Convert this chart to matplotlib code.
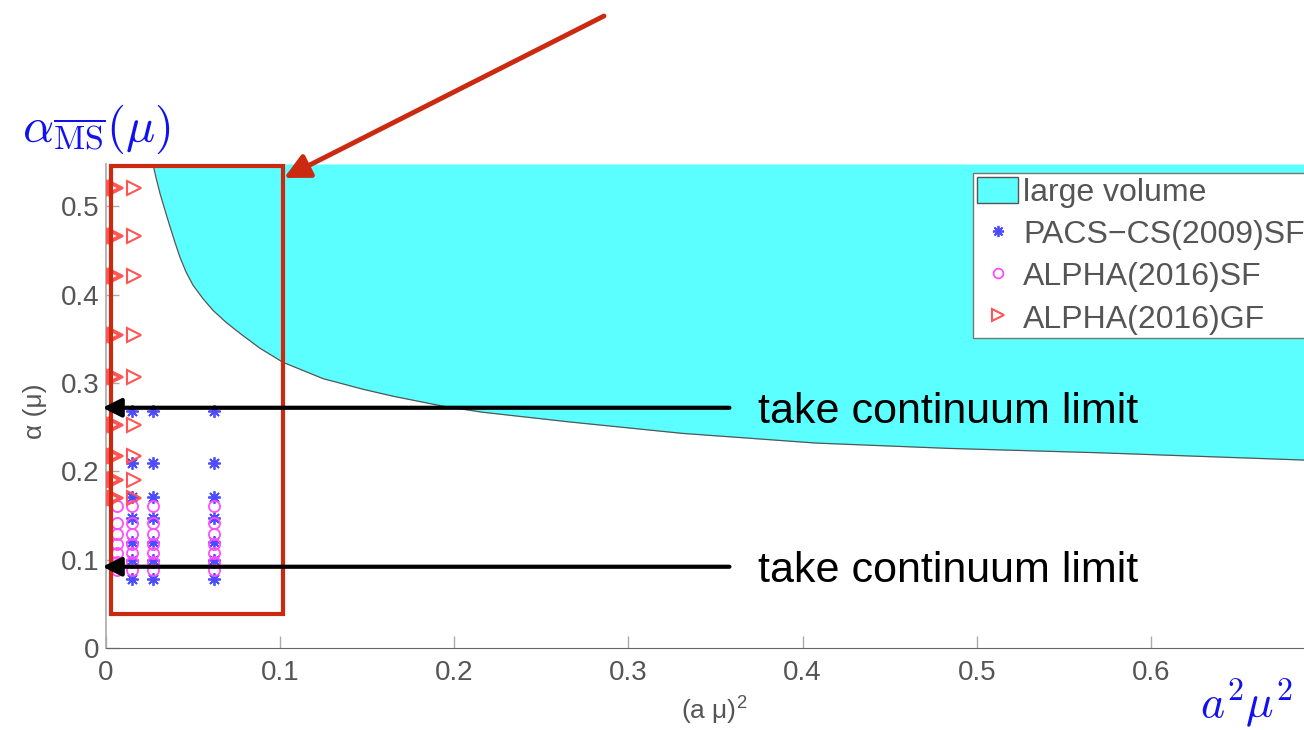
import matplotlib.pyplot as plt
from matplotlib.patches import Rectangle, Patch, FancyArrowPatch
from matplotlib.lines import Line2D

plt.rcParams['font.family'] = ['Liberation Sans', 'DejaVu Sans']
plt.rcParams['mathtext.fontset'] = 'cm'

# lower edge of the "large volume" region
lv_x = [0.0270, 0.0287, 0.0310, 0.0339, 0.0367, 0.0396, 0.0425, 0.0459, 0.0499, 0.0557,
        0.0614, 0.0689, 0.0769, 0.0884, 0.1016, 0.1246, 0.1475, 0.165, 0.193, 0.216,
        0.266, 0.331, 0.408, 0.484, 0.571, 0.685, 0.70]
lv_y = [0.5475, 0.5328, 0.5147, 0.4955, 0.4774, 0.4593, 0.4423, 0.4260, 0.4110, 0.3955,
        0.3824, 0.3688, 0.3563, 0.3394, 0.3235, 0.305, 0.293, 0.285, 0.274, 0.267,
        0.256, 0.243, 0.232, 0.226, 0.221, 0.213, 0.212]

# PACS-CS(2009)SF
pacs_x = [0.0149, 0.027, 0.062]
pacs_a = [0.268, 0.209, 0.171, 0.147, 0.120, 0.100, 0.078]

# ALPHA(2016)SF
sf_x = [0.0061, 0.0149, 0.027, 0.062]
sf_a = [0.161, 0.142, 0.129, 0.118, 0.107, 0.097, 0.088]

# ALPHA(2016)GF
gf_x = [0.0034, 0.0046, 0.0057, 0.016]
gf_a = [0.521, 0.467, 0.421, 0.354, 0.307, 0.253, 0.217, 0.190, 0.170]

xticks = [0, 0.1, 0.2, 0.3, 0.4, 0.5, 0.6]
xtick_labels = ['0', '0.1', '0.2', '0.3', '0.4', '0.5', '0.6']
yticks = [0, 0.1, 0.2, 0.3, 0.4, 0.5]
ytick_labels = ['0', '0.1', '0.2', '0.3', '0.4', '0.5']

cyan = '#5CFFFF'
blue_pts = '#4B4BFF'
mag_pts = '#FF4DFF'
red_pts = '#FF5555'
red_box = '#CC2A10'

W, H = 1304, 730
fig = plt.figure(figsize=(W / 100, H / 100), dpi=100)
ax = fig.add_axes([106 / W, 82 / H, (1325 - 106) / W, (648 - 164) / H])

ax.fill_between(lv_x, lv_y, 0.548, color=cyan, lw=0, zorder=1)
ax.plot(lv_x, lv_y, color='#555555', lw=0.9, zorder=2)

def grid_pts(xs, ys):
    px, py = [], []
    for x in xs:
        for y in ys:
            px.append(x)
            py.append(y)
    return px, py

px, py = grid_pts(pacs_x, pacs_a)
ax.plot(px, py, ls='none', marker=(8, 2, 0), ms=9, mec=blue_pts, mew=1.3, zorder=3)
px, py = grid_pts(sf_x, sf_a)
ax.plot(px, py, ls='none', marker='o', ms=8, mfc='none', mec=mag_pts, mew=1.3, zorder=4)
px, py = grid_pts(gf_x, gf_a)
ax.plot(px, py, ls='none', marker='>', ms=10, mfc='none', mec=red_pts, mew=1.5, zorder=5)

ax.set_xlim(0, 0.7)
ax.set_ylim(0, 0.548)
ax.set_xticks(xticks)
ax.set_xticklabels(xtick_labels)
ax.set_yticks(yticks)
ax.set_yticklabels(ytick_labels)
ax.tick_params(direction='in', length=9, width=1, color='#aaaaaa',
               labelsize=20, labelcolor='#555555')
ax.tick_params(axis='x', pad=9)
ax.tick_params(axis='y', pad=5)
for s in ['top', 'right']:
    ax.spines[s].set_visible(False)
ax.spines['left'].set_color('#aaaaaa')
ax.spines['bottom'].set_color('#666666')
ax.spines['left'].set_linewidth(1.2)

ax.set_ylabel('α (μ)', fontsize=19, color='#555555')
ax.yaxis.set_label_coords(-0.048, 0.49)
ax.set_xlabel('(a μ)$^{\\mathregular{2}}$', fontsize=19, color='#555555')
ax.xaxis.set_label_coords(0.499, -0.093)

handles = [
    Patch(facecolor=cyan, edgecolor='#555555', lw=1),
    Line2D([], [], ls='none', marker=(8, 2, 0), ms=8, mec=blue_pts, mew=1.3),
    Line2D([], [], ls='none', marker='o', ms=7, mfc='none', mec=mag_pts, mew=1.3),
    Line2D([], [], ls='none', marker='>', ms=8, mfc='none', mec=red_pts, mew=1.5),
]
labels = ['large volume', 'PACS\u2212CS(2009)SF', 'ALPHA(2016)SF', 'ALPHA(2016)GF']
leg = ax.legend(handles, labels, loc='upper left', bbox_to_anchor=(973 / W, 1 - 173 / H),
                bbox_transform=fig.transFigure, borderaxespad=0, fontsize=23,
                labelcolor='#555555', frameon=True, fancybox=False, framealpha=1,
                edgecolor='#777777', handlelength=1.3, handleheight=0.9,
                handletextpad=0.15, labelspacing=0.34, borderpad=0.12)
leg.get_frame().set_linewidth(1)
leg.set_zorder(6)

# red box around the small-volume data
ax.add_patch(Rectangle((0.0027, 0.0385), 0.1014 - 0.0027, 0.5456 - 0.0385, fill=False,
                       ec=red_box, lw=3, zorder=7, clip_on=False))

# continuum limit arrows
for y_arrow, y_text in [(0.272, 0.2545), (0.092, 0.0747)]:
    ax.annotate('', xy=(-0.002, y_arrow), xytext=(0.358, y_arrow),
                arrowprops=dict(arrowstyle='-|>', color='k', lw=3, mutation_scale=28,
                                shrinkA=0, shrinkB=0),
                annotation_clip=False, zorder=8)
    ax.text(0.3743, y_text, 'take continuum limit', fontsize=31, color='k',
            va='baseline', ha='left', zorder=8)

# red arrow coming from above
fig.add_artist(FancyArrowPatch(
    (604, H - 16), (284, H - 178), transform=None, arrowstyle='-|>', color=red_box,
    lw=3.5, mutation_scale=38, shrinkA=0, shrinkB=0, zorder=9))

fig.text(22 / W, 1 - 142 / H, '$\\alpha_{\\overline{\\rm MS}}(\\mu)$', fontsize=35,
         color='#1010F0', ha='left', va='baseline')
fig.text(1200 / W, 1 - 718 / H, '$a^2\\mu^2$', fontsize=33, color='#1010F0',
         ha='left', va='baseline')

fig.savefig('out.png', dpi=100)
